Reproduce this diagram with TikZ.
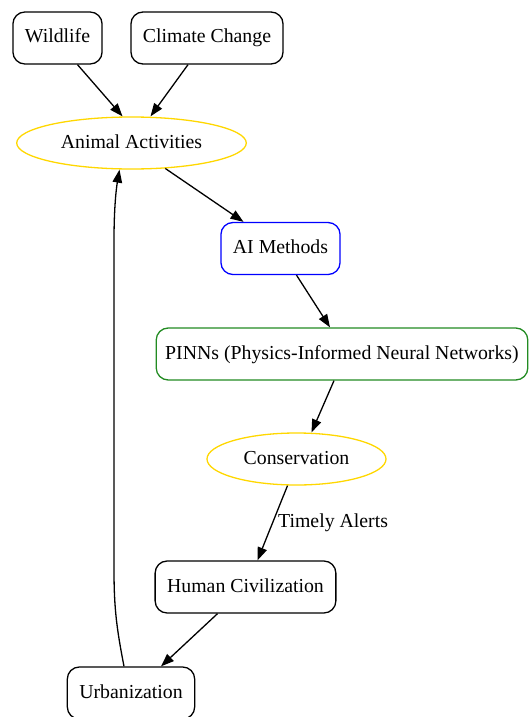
\documentclass[tikz,border=0pt]{standalone}
\usepackage{fontspec}
\setmainfont{Liberation Serif}
\usetikzlibrary{arrows.meta,shapes.geometric}
\definecolor{gold}{HTML}{FFD700}
\definecolor{forestgreen}{HTML}{228B22}

\begin{document}
\begin{tikzpicture}[
  x=1pt, y=-1pt,
  font=\fontsize{19.8}{23}\selectfont,
  >={Triangle[length=13pt,width=9.5pt]},
  box/.style={draw, rounded corners=12pt, minimum height=52pt, inner xsep=12pt, text height=14pt, text depth=4pt, line width=1.3pt},
  oval/.style={draw=gold, ellipse, minimum height=52pt, inner xsep=10.5pt, inner ysep=2pt, text height=14pt, text depth=4pt, line width=1.3pt},
  arr/.style={->, line width=1.3pt}
]
\clip (0,0) rectangle (530,717);

\node[box] (wild) at (57.5,38) {Wildlife};
\node[box] (clim) at (207,38) {Climate Change};
\node[oval] (act) at (131.5,143) {Animal Activities};
\node[box, draw=blue] (ai) at (280.5,248.5) {AI Methods};
\node[box, draw=forestgreen, inner xsep=9pt] (pinn) at (342,354) {PINNs (Physics-Informed Neural Networks)};
\node[oval] (cons) at (296.5,459) {Conservation};
\node[box] (hum) at (245.5,587) {Human Civilization};
\node[box] (urb) at (131,693) {Urbanization};

\draw[arr] ([xshift=20pt]wild.south) -- ([xshift=-9pt]act.north);
\draw[arr] ([xshift=-19pt]clim.south) -- ([xshift=19pt]act.north);
\draw[arr] (act.-37) -- ([xshift=-37pt]ai.north);
\draw[arr] ([xshift=16pt]ai.south) -- ([xshift=-12pt]pinn.north);
\draw[arr] ([xshift=-8pt]pinn.south) -- ([xshift=15pt]cons.north);
\draw[arr] ([xshift=-9pt]cons.south) -- node[right, pos=0.5, inner sep=5pt] {Timely Alerts} ([xshift=12pt]hum.north);
\draw[arr] ([xshift=-28pt]hum.south) -- ([xshift=30pt]urb.north);
\draw[arr] ([xshift=-7pt]urb.north) .. controls (117,630) and (114,610) .. (114,570)
  -- (114,240) .. controls (114,210) and (116,190) .. ([xshift=-12pt]act.south);

\end{tikzpicture}
\end{document}
